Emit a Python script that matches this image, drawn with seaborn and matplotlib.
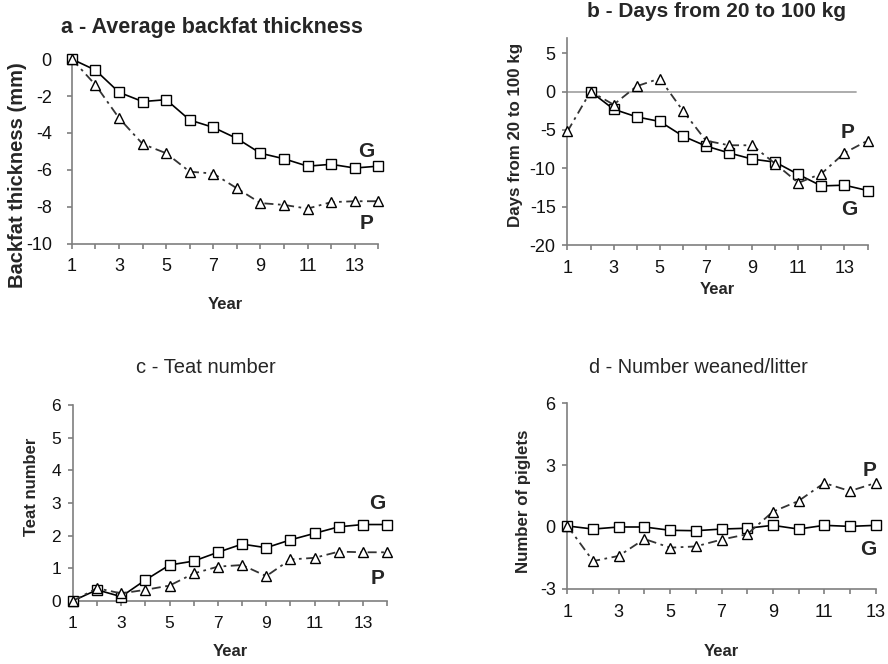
import matplotlib
matplotlib.use("Agg")
import matplotlib.pyplot as plt
import seaborn as sns
from matplotlib.ticker import MultipleLocator

# data
years_14 = list(range(1, 15))
years_13 = list(range(1, 14))

backfat_g = [0, -0.6, -1.8, -2.3, -2.2, -3.3, -3.7, -4.3, -5.1, -5.4, -5.8, -5.7, -5.9, -5.8]
backfat_p = [0, -1.4, -3.2, -4.6, -5.1, -6.1, -6.2, -7.0, -7.8, -7.9, -8.1, -7.75, -7.7, -7.7]

days_years_g = list(range(2, 15))
days_g = [0, -2.3, -3.3, -3.9, -5.8, -7.1, -8.0, -8.8, -9.2, -10.8, -12.3, -12.2, -12.9]
days_p = [-5.2, 0, -1.7, 0.7, 1.7, -2.5, -6.4, -7.0, -7.0, -9.4, -11.9, -10.7, -8.0, -6.4]

teat_g = [0, 0.34, 0.13, 0.64, 1.1, 1.22, 1.49, 1.74, 1.63, 1.87, 2.07, 2.27, 2.34, 2.34]
teat_p = [0, 0.39, 0.23, 0.34, 0.47, 0.84, 1.05, 1.1, 0.76, 1.27, 1.32, 1.51, 1.49, 1.49]

weaned_g = [0.05, -0.1, 0, 0, -0.16, -0.18, -0.1, -0.06, 0.08, -0.1, 0.08, 0.03, 0.08]
weaned_p = [0.05, -1.65, -1.4, -0.58, -1.0, -0.94, -0.61, -0.35, 0.74, 1.26, 2.13, 1.74, 2.13]

sns.set_style("white")
plt.rcParams["font.family"] = ["Liberation Sans", "DejaVu Sans"]
plt.rcParams["axes.unicode_minus"] = False

fig = plt.figure(figsize=(8.88, 6.64), dpi=100)

spine_col = "#7f7f7f"
p_style = (0, (5, 2.5, 1.5, 2.5))


def draw_panel(ax, xg, g, xp, p):
    sns.lineplot(x=xg, y=g, ax=ax, color="black", linewidth=1.2, marker="s",
                 markersize=7, markerfacecolor="white", markeredgecolor="black",
                 markeredgewidth=1.0, errorbar=None, clip_on=False, zorder=3)
    sns.lineplot(x=xp, y=p, ax=ax, color="#333333", linewidth=1.3, linestyle=p_style,
                 marker="^", markersize=7.5, markerfacecolor="white",
                 markeredgecolor="black", markeredgewidth=1.0, errorbar=None,
                 clip_on=False, zorder=3)


def style_axes(ax, xmax, ylim, ystep, tick_fs, ypad):
    ax.set_xlim(1, xmax)
    ax.set_ylim(*ylim)
    ax.set_xticks(list(range(1, xmax + 1, 2)))
    ax.xaxis.set_minor_locator(MultipleLocator(1))
    ax.yaxis.set_major_locator(MultipleLocator(ystep))
    sns.despine(ax=ax)
    for s in ["left", "bottom"]:
        ax.spines[s].set_color(spine_col)
        ax.spines[s].set_linewidth(1.2)
    ax.tick_params(which="both", direction="out", color=spine_col, width=1.2,
                   length=3.5, labelsize=tick_fs, labelcolor="#111111")
    ax.tick_params(axis="x", which="both", bottom=True, pad=7)
    ax.tick_params(axis="y", left=True, pad=ypad)


def set_labels(ax, ylabel, ysize, ycoords, xcoord_y):
    ax.set_ylabel(ylabel, fontsize=ysize, fontweight="bold", va="center")
    ax.yaxis.set_label_coords(*ycoords)
    ax.set_xlabel("Year", fontsize=12, fontweight="bold", va="center")
    ax.xaxis.set_label_coords(0.5, xcoord_y)


# a - backfat
ax_a = fig.add_axes([0.081, 0.633, 0.345, 0.278])
draw_panel(ax_a, years_14, backfat_g, years_14, backfat_p)
style_axes(ax_a, 14, (-10, 0), 2, 13, 11)
set_labels(ax_a, "Backfat thickness (mm)", 14.5, (-0.178, 0.373), -0.33)
fig.text(0.239, 0.959, "a - Average backfat thickness", fontsize=15.5,
         fontweight="bold", ha="center", va="center")
ax_a.text(13.5, -5.0, "G", fontsize=15, fontweight="bold", ha="center", va="center")
ax_a.text(13.5, -8.9, "P", fontsize=15, fontweight="bold", ha="center", va="center")

# b - days from 20 to 100 kg
ax_b = fig.add_axes([0.639, 0.631, 0.338, 0.312])
ax_b.axhline(0, xmin=0, xmax=0.96, color="#a6a6a6", linewidth=1.3, zorder=1)
draw_panel(ax_b, days_years_g, days_g, years_14, days_p)
style_axes(ax_b, 14, (-20, 7), 5, 13, 5)
set_labels(ax_b, "Days from 20 to 100 kg", 12.2, (-0.172, 0.531), -0.217)
fig.text(0.807, 0.983, "b - Days from 20 to 100 kg", fontsize=15,
         fontweight="bold", ha="center", va="center")
ax_b.text(13.15, -5.4, "P", fontsize=15, fontweight="bold", ha="center", va="center")
ax_b.text(13.2, -15.4, "G", fontsize=15, fontweight="bold", ha="center", va="center")

# c - teat number
ax_c = fig.add_axes([0.082, 0.095, 0.354, 0.295])
draw_panel(ax_c, years_14, teat_g, years_14, teat_p)
style_axes(ax_c, 14, (0, 6), 1, 12.5, 5)
set_labels(ax_c, "Teat number", 12, (-0.133, 0.582), -0.26)
fig.text(0.232, 0.447, "c - Teat number", fontsize=14.5, ha="center", va="center")
ax_c.text(13.6, 2.97, "G", fontsize=15, fontweight="bold", ha="center", va="center")
ax_c.text(13.6, 0.7, "P", fontsize=15, fontweight="bold", ha="center", va="center")

# d - number weaned per litter
ax_d = fig.add_axes([0.639, 0.113, 0.347, 0.28])
draw_panel(ax_d, years_13, weaned_g, years_13, weaned_p)
style_axes(ax_d, 13, (-3, 6), 3, 13, 5)
set_labels(ax_d, "Number of piglets", 12.2, (-0.141, 0.473), -0.339)
fig.text(0.787, 0.447, "d - Number weaned/litter", fontsize=14.4, ha="center", va="center")
ax_d.text(12.75, 2.75, "P", fontsize=15, fontweight="bold", ha="center", va="center")
ax_d.text(12.7, -1.08, "G", fontsize=15, fontweight="bold", ha="center", va="center")

fig.savefig("out.png", dpi=100)
